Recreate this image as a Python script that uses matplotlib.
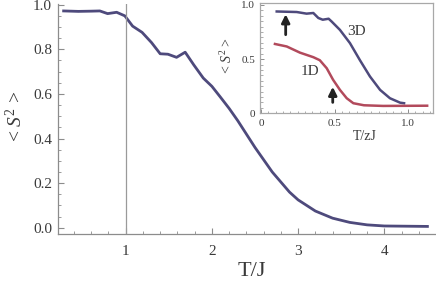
import numpy as np
import matplotlib
matplotlib.use('Agg')
import matplotlib.pyplot as plt
from matplotlib.ticker import MultipleLocator

# main curve, <S^2> vs T/J
T_main = [0.28, 0.45, 0.60, 0.70, 0.79, 0.895, 0.99, 1.08, 1.19, 1.30, 1.40, 1.49,
          1.59, 1.69, 1.79, 1.90, 2.00, 2.10, 2.20, 2.30, 2.40, 2.50, 2.60, 2.70,
          2.80, 2.90, 3.00, 3.20, 3.40, 3.60, 3.80, 4.00, 4.50]
S_main = [0.972, 0.970, 0.971, 0.972, 0.960, 0.966, 0.950, 0.904, 0.876, 0.830, 0.780, 0.778,
          0.764, 0.787, 0.730, 0.671, 0.634, 0.585, 0.535, 0.480, 0.420, 0.360, 0.305, 0.250,
          0.205, 0.160, 0.125, 0.075, 0.043, 0.024, 0.013, 0.008, 0.006]

# inset curves vs T/zJ
T_3d = [0.107, 0.243, 0.31, 0.356, 0.39, 0.42, 0.46, 0.48, 0.537, 0.605, 0.673,
        0.741, 0.81, 0.877, 0.946, 0.973]
S_3d = [0.94, 0.935, 0.92, 0.926, 0.88, 0.864, 0.873, 0.848, 0.77, 0.648, 0.49,
        0.34, 0.216, 0.139, 0.098, 0.093]
T_1d = [0.095, 0.175, 0.265, 0.356, 0.40, 0.447, 0.49, 0.537, 0.583, 0.628, 0.70, 0.83, 1.13]
S_1d = [0.64, 0.617, 0.56, 0.518, 0.49, 0.416, 0.31, 0.216, 0.139, 0.093, 0.074, 0.068, 0.07]

plt.rcParams['font.family'] = 'Liberation Serif'
plt.rcParams['mathtext.fontset'] = 'custom'
plt.rcParams['mathtext.rm'] = 'Liberation Serif'
plt.rcParams['mathtext.it'] = 'Liberation Serif:italic'

grey = '#8c8c8c'
txt = '#3a3a3a'
c_main = '#4e4a7c'
c_1d = '#b24a5c'

fig = plt.figure(figsize=(4.36, 2.89), dpi=100)

##############################################################################
# main axes
ax = fig.add_axes([0.1319, 0.1903, 0.8658, 0.795])
ax.plot(T_main, S_main, color=c_main, linewidth=2)
ax.axvline(1.0, color='#9a9a9a', linewidth=0.9)
ax.set_xlim(0.209, 4.588)
ax.set_ylim(-0.028, 1.002)
ax.set_xticks([1, 2, 3, 4])
ax.set_yticks([0.0, 0.2, 0.4, 0.6, 0.8, 1.0])
ax.set_yticklabels(['0.0', '0.2', '0.4', '0.6', '0.8', '1.0'])
ax.xaxis.set_minor_locator(MultipleLocator(0.2))
ax.yaxis.set_minor_locator(MultipleLocator(0.05))
for s in ['top', 'right']:
    ax.spines[s].set_visible(False)
for s in ['left', 'bottom']:
    ax.spines[s].set_color(grey)
    ax.spines[s].set_linewidth(0.9)
ax.tick_params(which='both', direction='in', color=grey, labelcolor=txt, labelsize=11)
ax.tick_params(which='major', length=4, width=0.8)
ax.tick_params(which='minor', length=2.5, width=0.6)
ax.tick_params(axis='x', pad=8)
ax.tick_params(axis='y', pad=4)
ax.set_xlabel('T/J', fontsize=16, color=txt)
ax.set_ylabel(r'< $S^2$ >', fontsize=14, color=txt)
ax.xaxis.set_label_coords(0.515, -0.164)
ax.yaxis.set_label_coords(-0.112, 0.513)
ax.xaxis.label.set_va('center')
ax.yaxis.label.set_va('center')

##############################################################################
# inset
ins = fig.add_axes([0.5952, 0.608, 0.398, 0.380])
ins.plot(T_3d, S_3d, color=c_main, linewidth=1.8)
ins.plot(T_1d, S_1d, color=c_1d, linewidth=1.8)
ins.annotate('', xy=(0.168, 0.94), xytext=(0.168, 0.70),
             arrowprops=dict(arrowstyle='-|>', color='#222222', lw=2, mutation_scale=12))
ins.annotate('', xy=(0.488, 0.27), xytext=(0.488, 0.075),
             arrowprops=dict(arrowstyle='-|>', color='#222222', lw=2, mutation_scale=12))
ins.text(0.65, 0.755, '3D', fontsize=11, color=txt, ha='center', va='center')
ins.text(0.333, 0.385, '1D', fontsize=11, color=txt, ha='center', va='center')
ins.set_xlim(-0.01, 1.17)
ins.set_ylim(0, 1.014)
ins.set_xticks([0, 0.5, 1.0])
ins.set_xticklabels(['0', '0.5', '1.0'])
ins.set_yticks([0, 0.5, 1.0])
ins.set_yticklabels(['0', '0.5', '1.0'])
ins.xaxis.set_minor_locator(MultipleLocator(0.05))
ins.yaxis.set_minor_locator(MultipleLocator(0.05))
for s in ins.spines.values():
    s.set_color('#a8a8a8')
    s.set_linewidth(0.9)
ins.tick_params(which='both', direction='in', color=grey, labelcolor=txt, labelsize=8,
                top=False, right=False)
ins.tick_params(which='major', length=3, width=0.7)
ins.tick_params(which='minor', length=1.8, width=0.5)
ins.tick_params(axis='x', pad=4)
ins.tick_params(axis='y', pad=3)
ins.set_xlabel('T/zJ', fontsize=10, color=txt)
ins.set_ylabel(r'< $S^2$ >', fontsize=10, color=txt)
ins.xaxis.set_label_coords(0.608, -0.213)
ins.yaxis.set_label_coords(-0.189, 0.531)
ins.xaxis.label.set_va('center')
ins.yaxis.label.set_va('center')

fig.savefig('out.png', dpi=100)
